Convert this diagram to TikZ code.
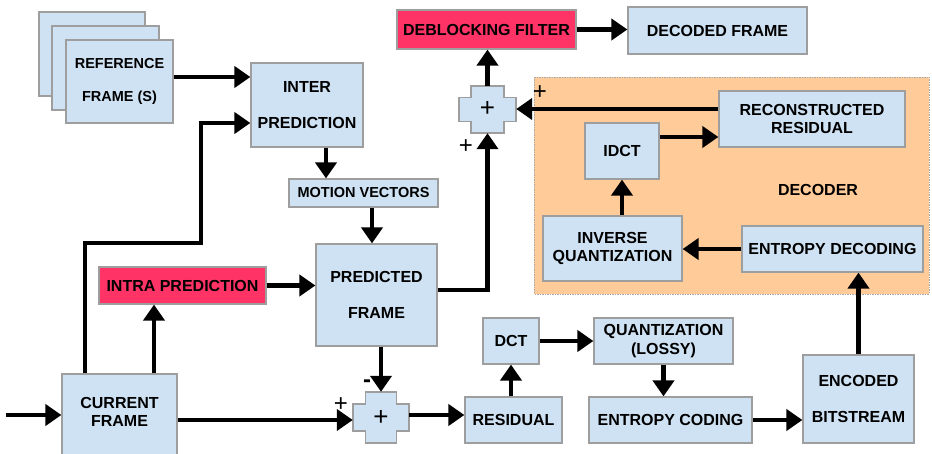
\documentclass[tikz,border=0pt]{standalone}
\usepackage{fontspec}
\setmainfont{Liberation Sans}
\usetikzlibrary{arrows.meta,calc}
\definecolor{boxblue}{HTML}{CFE2F3}
\definecolor{boxedge}{HTML}{9E9E9E}
\definecolor{hotred}{HTML}{FF3366}
\definecolor{decfill}{HTML}{FFCC99}
\definecolor{decedge}{HTML}{A8A8A8}

% cross-shaped adder drawn around a named (invisible) node
% #1 node name, #2 half width, #3 half height, #4 vertical arm half width, #5 horizontal arm half height
\newcommand\adderoutline[5]{%
  \draw[adderline] (#1.center) ++(-#4,-#3) -- ++(2*#4,0) -- ++(0,#3-#5) -- ++(#2-#4,0)
    -- ++(0,2*#5) -- ++(#4-#2,0) -- ++(0,#3-#5) -- ++(-2*#4,0) -- ++(0,#5-#3)
    -- ++(#4-#2,0) -- ++(0,-2*#5) -- ++(#2-#4,0) -- cycle;}

\begin{document}
\begin{tikzpicture}[x=1pt,y=-1pt,
  blk/.style={draw=boxedge, line width=1.2pt, fill=boxblue, inner sep=0pt, align=center,
    font=\bfseries\fontsize{16}{18}\selectfont},
  redblk/.style={blk, fill=hotred},
  adderline/.style={draw=boxedge, line width=1.2pt, fill=boxblue},
  addernode/.style={inner sep=0pt, font=\fontsize{26}{26}\selectfont},
  sign/.style={inner sep=0pt, font=\fontsize{24}{24}\selectfont},
  arr/.style={line width=4.5pt, -{Triangle[length=16pt,width=21pt]}},
]
\useasboundingbox (0,0) rectangle (932,454);

% decoder region
\draw[draw=decedge, fill=decfill, line width=0.8pt, dash pattern=on 1.5pt off 1pt]
  (534,77) rectangle (929,294);
\node[font=\bfseries\fontsize{16}{18}\selectfont] (declabel) at (818,190) {DECODER};

% reference frame stack
\node[blk, minimum width=106pt, minimum height=84pt] (refA) at (92,54) {};
\node[blk, minimum width=107pt, minimum height=84pt] (refB) at (105.5,68) {};
\node[blk, minimum width=107pt, minimum height=83pt, font=\bfseries\fontsize{14.5}{33}\selectfont]
  (refframe) at (119.5,81.5) {REFERENCE\\FRAME (S)};

% encoder blocks
\node[blk, minimum width=112pt, minimum height=84pt, font=\bfseries\fontsize{16}{36}\selectfont]
  (inter) at (307,105) {INTER\\PREDICTION};
\node[blk, minimum width=149pt, minimum height=28pt, font=\bfseries\fontsize{14.5}{16}\selectfont]
  (motion) at (363.5,193) {MOTION VECTORS};
\node[blk, minimum width=121pt, minimum height=102pt, font=\bfseries\fontsize{16}{36}\selectfont]
  (predicted) at (376.5,295) {PREDICTED\\FRAME};
\node[redblk, minimum width=167pt, minimum height=37pt] (intra) at (182.5,285.5) {INTRA PREDICTION};
\node[blk, minimum width=115pt, minimum height=82pt] (current) at (119.5,415) {};
\node[font=\bfseries\fontsize{16}{18}\selectfont, align=center] (currenttext) at (119.5,412) {CURRENT\\FRAME};

\node[minimum width=56pt, minimum height=51pt, inner sep=0pt] (plusB) at (381,417.5) {};
\adderoutline{plusB}{28}{25.5}{15.5}{13.5}
\node[addernode] (plusBsign) at (381,417.5) {+};

\node[blk, minimum width=97pt, minimum height=46pt] (residual) at (513.5,420) {RESIDUAL};
\node[blk, minimum width=56pt, minimum height=46pt] (dct) at (511,341) {DCT};
\node[blk, minimum width=139pt, minimum height=46pt, font=\bfseries\fontsize{16}{19}\selectfont]
  (quant) at (663.5,341) {QUANTIZATION\\(LOSSY)};
\node[blk, minimum width=163pt, minimum height=46pt] (ecoding) at (670.5,420) {ENTROPY CODING};
\node[blk, minimum width=111pt, minimum height=88pt, font=\bfseries\fontsize{16}{36}\selectfont]
  (encoded) at (858.5,399) {ENCODED\\BITSTREAM};

% decoder blocks
\node[blk, minimum width=181pt, minimum height=46pt] (edecoding) at (832.5,249) {ENTROPY DECODING};
\node[blk, minimum width=139pt, minimum height=65pt] (inverse) at (612.5,248.5) {INVERSE\\QUANTIZATION};
\node[blk, minimum width=74pt, minimum height=56pt] (idct) at (622,151) {IDCT};
\node[blk, minimum width=186pt, minimum height=56pt] (recon) at (812,119) {RECONSTRUCTED\\RESIDUAL};

\node[minimum width=57pt, minimum height=47pt, inner sep=0pt] (plusT) at (487.5,109.5) {};
\adderoutline{plusT}{28.5}{23.5}{16.5}{12}
\node[addernode] (plusTsign) at (487.5,109.5) {+};

\node[redblk, minimum width=179pt, minimum height=39pt] (deblock) at (486.5,29.5) {DEBLOCKING FILTER};
\node[blk, minimum width=179pt, minimum height=47pt] (decoded) at (717.5,30.5) {DECODED FRAME};

% signs at adder inputs
\node[sign] (signA) at (341,405) {+};
\node[sign, font=\bfseries\fontsize{24}{24}\selectfont] (signB) at (367,384) {-};
\node[sign] (signC) at (466,147) {+};
\node[sign] (signD) at (540,93) {+};

% connectors
\coordinate (input) at (6,415);
\coordinate (bendA) at (201,243);
\draw[arr] ([yshift=4.5pt]refframe.east) -- ([yshift=4.5pt]refframe.east -| inter.west);
\draw[arr] ([xshift=-34.5pt]current.north) |- (bendA) |- ([yshift=-18pt]inter.west);
\draw[arr] ([xshift=19pt]inter.south) -- ([xshift=19pt]inter.south |- motion.north);
\draw[arr] ([xshift=8.5pt]motion.south) -- ([xshift=8.5pt]motion.south |- predicted.north);
\draw[arr] (intra.east) -- (intra.east -| predicted.west);
\draw[arr] ([xshift=34.5pt]current.north) -- ([xshift=34.5pt]current.north |- intra.south);
\draw[arr] (input) -- (current.west);
\draw[arr] ([yshift=-5pt]current.east) -- ([yshift=-5pt]current.east -| plusB.west);
\draw[arr] (plusB.north |- predicted.south) -- (plusB.north);
\draw[arr] ([yshift=2.5pt]plusB.east) -- ([yshift=2.5pt]plusB.east -| residual.west);
\draw[arr] (dct.south |- residual.north) -- (dct.south);
\draw[arr] (dct.east) -- (dct.east -| quant.west);
\draw[arr] (quant.south) -- (quant.south |- ecoding.north);
\draw[arr] (ecoding.east) -- (ecoding.east -| encoded.west);
\draw[arr] (encoded.north) -- (encoded.north |- edecoding.south);
\draw[arr] (edecoding.west) -- (edecoding.west -| inverse.east);
\draw[arr] (idct.south |- inverse.north) -- (idct.south);
\draw[arr] ([yshift=14pt]idct.east) -- ([yshift=14pt]idct.east -| recon.west);
\draw[arr] ([yshift=10pt]recon.west) -- ([yshift=10pt]recon.west -| plusT.east);
\draw[arr] ([yshift=5pt]predicted.east) -| (plusT.south);
\draw[arr] (plusT.north) -- (plusT.north |- deblock.south);
\draw[arr] (deblock.east) -- (deblock.east -| decoded.west);
\end{tikzpicture}
\end{document}
